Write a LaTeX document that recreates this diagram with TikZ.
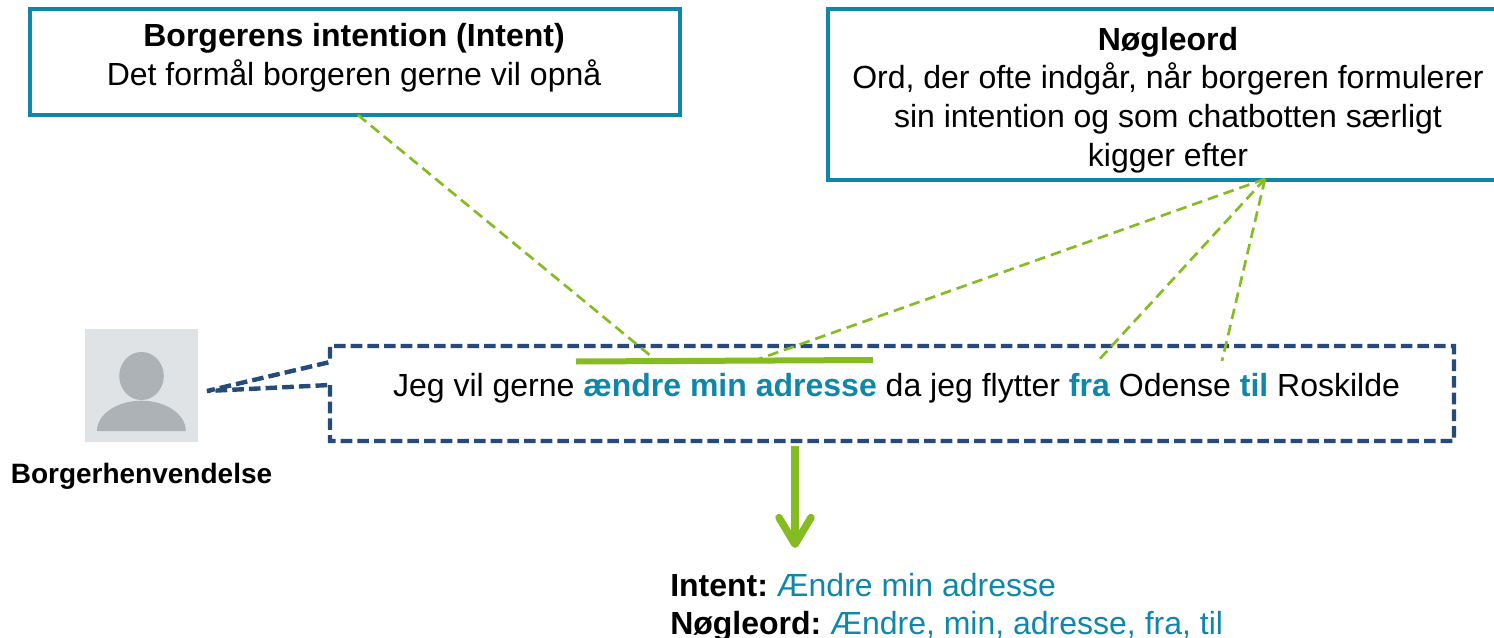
\documentclass[tikz,border=0pt]{standalone}
\usepackage{fontspec}
\setmainfont{Liberation Sans}
\usetikzlibrary{arrows.meta}
\definecolor{boxteal}{HTML}{0F87AB}
\definecolor{leafgreen}{HTML}{85BC22}
\definecolor{bubblenavy}{HTML}{264B78}
\definecolor{avatarbg}{HTML}{E0E3E5}
\definecolor{avatarfg}{HTML}{ACB2B6}
\tikzstyle{textframe}=[draw=boxteal,line width=3pt,outer sep=0pt,inner sep=0pt]
\tikzstyle{bigtext}=[font=\fontsize{24}{29}\selectfont,align=center,inner sep=0pt]
\tikzstyle{hint edge}=[draw=leafgreen,line width=2pt,dash pattern=on 8pt off 4.5pt]
\tikzstyle{bubble line}=[draw=bubblenavy,line width=3.3pt,dash pattern=on 8.7pt off 3.8pt]
\begin{document}
\begin{tikzpicture}[x=0.75pt,y=-0.75pt]
\useasboundingbox (0,0) rectangle (1494,638);
\node[textframe,minimum width=488pt,minimum height=79pt] (intentframe) at (355,62) {};
\node[textframe,minimum width=511pt,minimum height=127.5pt] (wordframe) at (1168.5,94.5) {};
\node[bigtext] (intenttext) at (354,57.5) {\textbf{Borgerens intention (Intent)}\\Det formål borgeren gerne vil opnå};
\node[bigtext] (wordtext) at (1168,100) {\textbf{Nøgleord}\\Ord, der ofte indgår, når borgeren formulerer\\sin intention og som chatbotten særligt\\kigger efter};
\node[fill=avatarbg,minimum size=84.75pt,inner sep=0pt,outer sep=0pt] (avatar) at (141.5,385.5) {};
\node[font=\fontsize{21}{24}\selectfont\bfseries,inner sep=0pt] (avatarlabel) at (141.5,476) {Borgerhenvendelse};
\node[bigtext] (message) at (896.5,388.5) {Jeg vil gerne \textcolor{boxteal}{\textbf{ændre min adresse}} da jeg flytter \textcolor{boxteal}{\textbf{fra}} Odense \textcolor{boxteal}{\textbf{til}} Roskilde};
\node[bigtext,align=left,anchor=north west,font=\fontsize{24}{28.8}\selectfont] (result) at (670,573) {\textbf{Intent:}\kern-2.4pt{} \textcolor{boxteal}{Ændre min adresse}\\\textbf{Nøgleord:}\kern-2.4pt{} \textcolor{boxteal}{Ændre, min, adresse, fra, til}};
\coordinate (intentfoot) at (358,115);
\coordinate (intentend) at (657,361);
\coordinate (wordfoot) at (1265,179);
\coordinate (wordend) at (756,360);
\coordinate (fraend) at (1097,362);
\coordinate (tilend) at (1222,361);
\coordinate (bubbletip) at (207,391);
\coordinate (bubblelow) at (330,385);
\coordinate (bubbleup) at (330,362);
\coordinate (bubblese) at (1454,441);
\coordinate (bubblene) at (1454,346);
\coordinate (markstart) at (576,361.5);
\coordinate (markend) at (873,360);
\coordinate (arrowstart) at (795,446);
\coordinate (arrowend) at (795,548);
% avatar
\fill[avatarfg] (141.5,376) ellipse [x radius=22.3,y radius=24];
\fill[avatarfg] (97,431) arc [start angle=180,end angle=360,x radius=44.4,y radius=30.3] -- cycle;
\path[bubble line] (bubblelow) |- (bubblese) -- (bubblene) -| (bubbleup) -- (bubbletip) -- (bubblelow);
\draw[leafgreen,line width=4.5pt] (markstart) -- (markend);
\draw[leafgreen,line width=5.6pt,-{Straight Barb[length=20pt,width=24pt,round]}] (arrowstart) -- (arrowend);
\foreach \source/\dest in {intentfoot/intentend, wordfoot/wordend, wordfoot/fraend, wordfoot/tilend}{
  \path[hint edge] (\source) -- (\dest);
}
\end{tikzpicture}
\end{document}
